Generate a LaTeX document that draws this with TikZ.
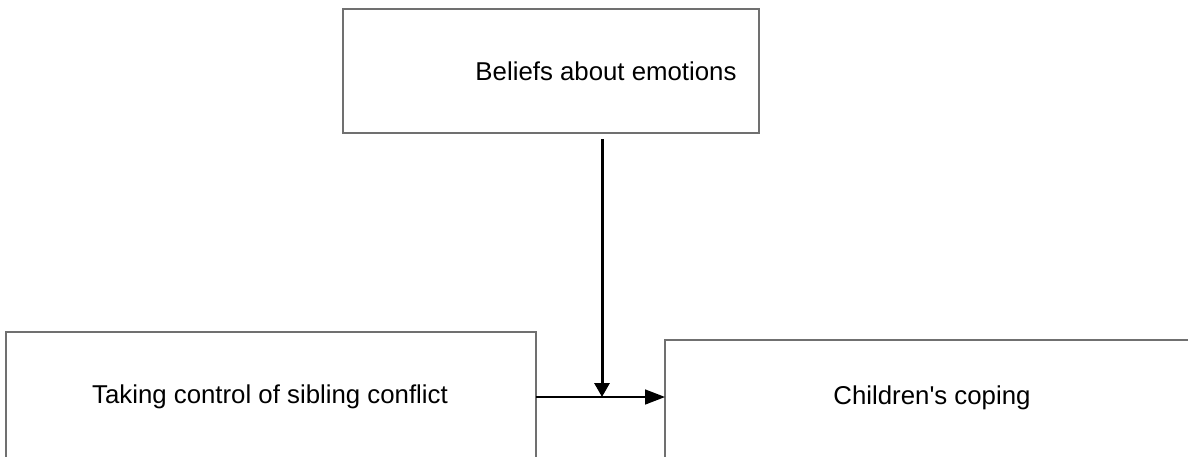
\documentclass[tikz,border=0pt]{standalone}
\usepackage{fontspec}
\setmainfont{Liberation Sans}
\usetikzlibrary{arrows.meta}
\definecolor{boxgray}{RGB}{112,112,112}
\begin{document}
\begin{tikzpicture}[x=1pt,y=-1pt,
  box/.style={draw=boxgray, line width=2pt, rectangle, inner sep=0pt, outer sep=0pt},
  lbl/.style={inner sep=0pt, font=\fontsize{25.8}{30}\selectfont},
  thickarrow/.style={line width=3pt, -{Triangle[length=14pt,width=15pt]}},
  thinarrow/.style={line width=1.5pt, -{Triangle[length=20pt,width=15pt]}}]
\useasboundingbox (0,0) rectangle (1188,456);
\clip (0,0) rectangle (1188,456);
\fill[white] (0,0) rectangle (1188,456);
\node[box, minimum width=416pt, minimum height=124pt] (beliefs) at (551,71) {};
\node[lbl] (beliefstext) at (606,71) {Beliefs about emotions};
\node[box, minimum width=530pt, minimum height=132pt] (taking) at (271,398) {};
\node[lbl] (takingtext) at (270,397) {Taking control of sibling conflict};
\node[box, minimum width=560pt, minimum height=124pt] (coping) at (945,402) {};
\node[lbl] (copingtext) at (932,398) {Children\textquotesingle s coping};
\coordinate (vtop) at (602,139);
\coordinate (mid) at (602,397);
\draw[thinarrow] (taking.east |- mid) -- (coping.west |- mid);
\draw[thickarrow] (vtop) -- (mid);
\end{tikzpicture}
\end{document}
